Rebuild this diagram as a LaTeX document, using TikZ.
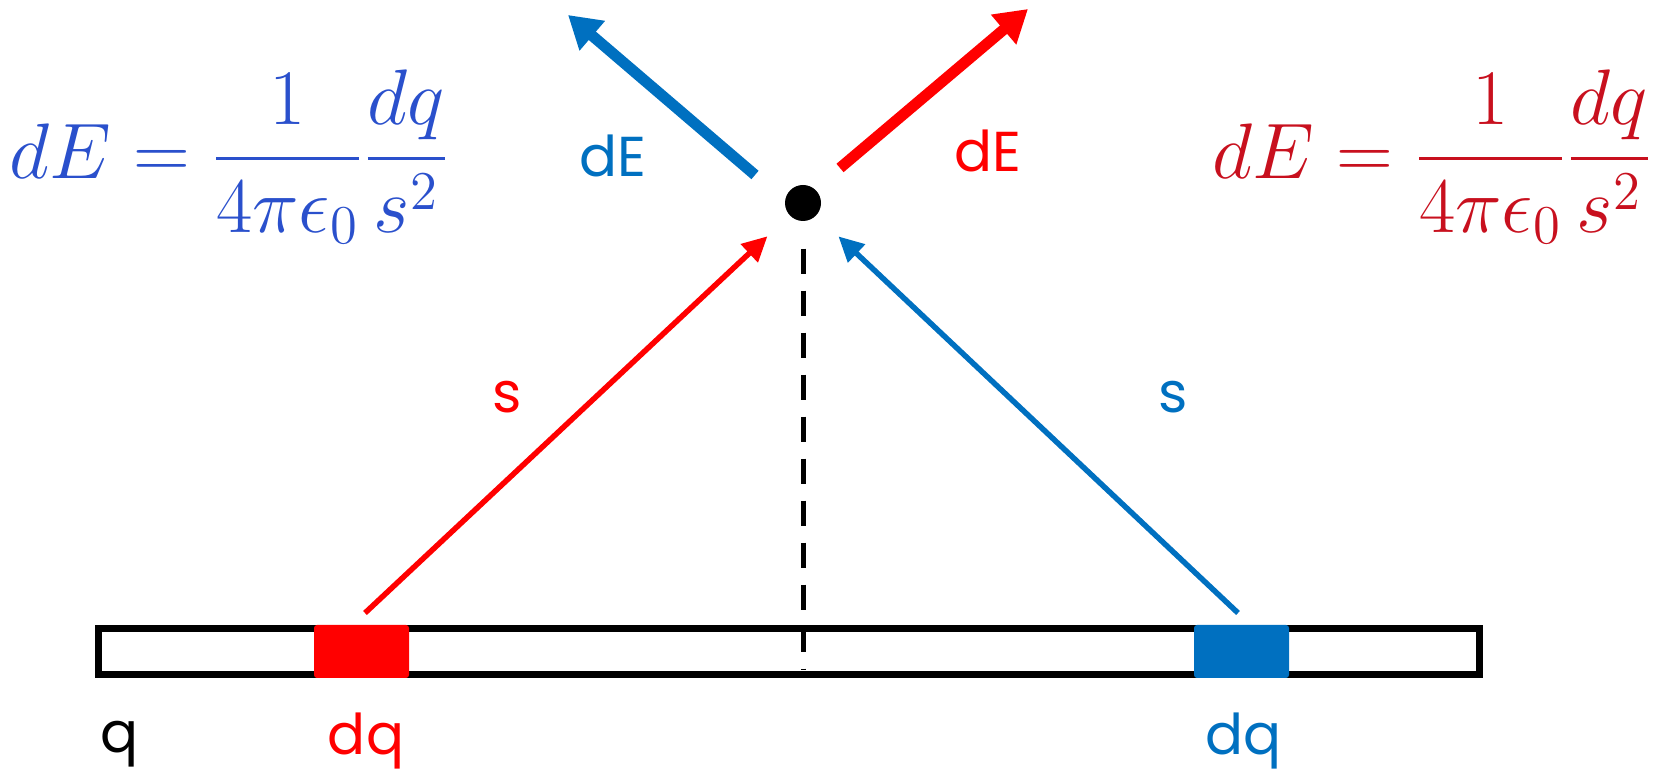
\documentclass[tikz,border=0pt]{standalone}
\usepackage{amsmath}
\usepackage{fontspec}
\newfontfamily\labelfont{Poppins}
\usetikzlibrary{arrows.meta,calc,positioning}
\definecolor{fieldblue}{RGB}{0,112,192}
\definecolor{fieldred}{RGB}{255,0,0}
\definecolor{eqblue}{RGB}{42,80,204}
\definecolor{eqred}{RGB}{200,16,30}

\begin{document}
\begin{tikzpicture}[x=0.1mm, y=-0.1mm,
    lbl/.style={font=\labelfont\fontsize{16}{19}\selectfont, inner sep=0pt, anchor=base},
    eq/.style={font=\fontsize{20.74}{25}\selectfont, inner sep=0pt, scale=1.08, transform shape},
    sline/.style={line width=0.55mm, -{Triangle[length=2.5mm,width=2.4mm]}},
    efield/.style={line width=1.1mm, -{Triangle[length=3.2mm,width=3.7mm]}},
    dqbox/.style={minimum width=9.5mm, minimum height=5.3mm, inner sep=0pt, rounded corners=0.3mm},
    guide/.style={line width=0.5mm, dash pattern=on 2.5mm off 1.7mm}]
    \useasboundingbox (0,0) rectangle (1661,771);

    % Charged rod and the two charge elements
    \node[draw, line width=0.7mm, minimum width=138.1mm, minimum height=4.6mm, inner sep=0pt] (rod) at (789,651.5) {};
    \node[dqbox, fill=fieldred] (dqL) at (361.5,651.5) {};
    \node[dqbox, fill=fieldblue] (dqR) at (1241.5,651.5) {};

    % Field point
    \node[circle, fill=black, minimum size=3.6mm, inner sep=0pt] (P) at (803,203) {};

    % Symmetry line
    \draw[guide, shorten <=2.7mm, shorten >=0.9mm] (P.south) -- (P.south |- rod.south);

    % Separation vectors s
    \coordinate (sLtail) at (365,613);
    \coordinate (sRtail) at (1238,613);
    \draw[sline, fieldred, shorten >=3mm] (sLtail) -- (P);
    \draw[sline, fieldblue, shorten >=3mm] (sRtail) -- (P);
    \node[lbl, text=fieldred] (sL) at (507,413) {s};
    \node[lbl, text=fieldblue] (sR) at (1173,413) {s};

    % Field contributions dE
    \coordinate (EbTail) at (755,175);
    \coordinate (EbTip) at (568,15);
    \coordinate (ErTail) at (840,168);
    \coordinate (ErTip) at (1028,9);
    \draw[efield, fieldblue] (EbTail) -- (EbTip);
    \draw[efield, fieldred] (ErTail) -- (ErTip);
    \node[lbl, text=fieldblue] (dEb) at (613,177) {dE};
    \node[lbl, text=fieldred] (dEr) at (988,172) {dE};

    % Charge labels
    \node[lbl] (qtot) at (120,753) {q};
    \node[lbl, text=fieldred] (dqLlbl) at (366,755) {dq};
    \node[lbl, text=fieldblue] (dqRlbl) at (1243,755) {dq};

    % Coulomb formulas
    \node[eq, text=eqblue] (fLeft) at (229.5,157) {$\displaystyle dE = \frac{1}{4\pi\epsilon_0}\frac{dq}{s^2}$};
    \node[eq, text=eqred] (fRight) at (1432.5,157) {$\displaystyle dE = \frac{1}{4\pi\epsilon_0}\frac{dq}{s^2}$};
\end{tikzpicture}
\end{document}
